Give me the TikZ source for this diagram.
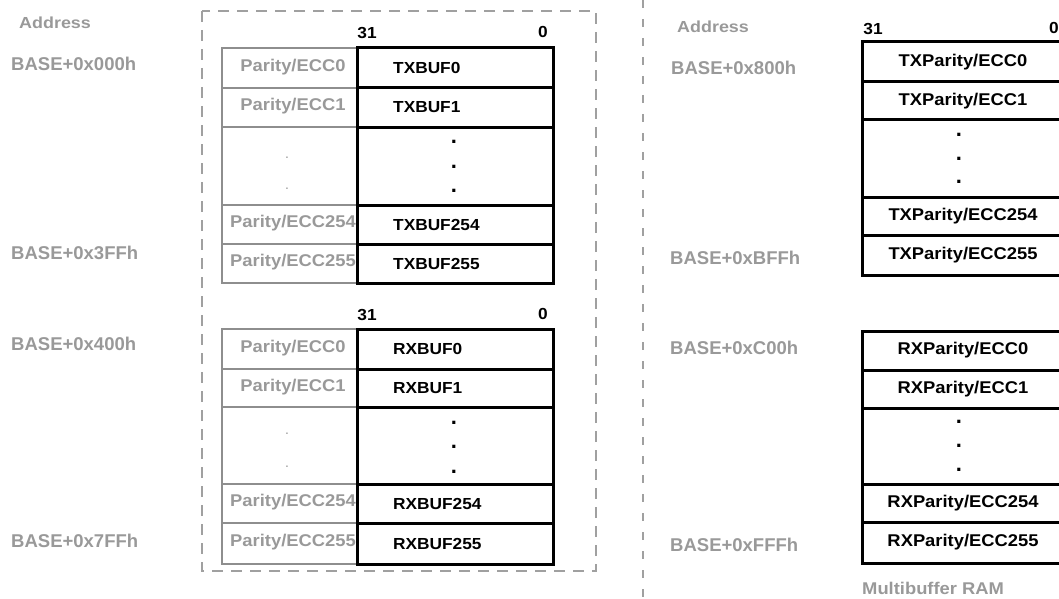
\documentclass[tikz,border=0pt]{standalone}
\usepackage{fontspec}
\setmainfont{Liberation Sans}
\newfontfamily\widefont{Liberation Sans}[FakeStretch=1.08]
\newfontfamily\hdrfont{Liberation Sans}[FakeStretch=1.12]
\definecolor{txtgray}{HTML}{999999}
\definecolor{cellgray}{HTML}{8E8E8E}
\definecolor{dashgray}{HTML}{A0A0A0}
\begin{document}
\begin{tikzpicture}[x=1pt,y=-1pt,
  gcell/.style={draw=cellgray, line width=2.6pt, inner sep=0pt, minimum width=135pt},
  bcell/.style={draw=black, line width=3pt, inner sep=0pt},
  addr/.style={text=txtgray, font=\bfseries\fontsize{18.5}{20}\selectfont, inner sep=0pt, anchor=west},
  hdr/.style={text=txtgray, font=\hdrfont\bfseries\fontsize{16}{18}\selectfont, inner sep=0pt, anchor=west},
  gtxt/.style={text=txtgray, font=\widefont\bfseries\fontsize{17}{19}\selectfont, inner sep=0pt},
  btxt/.style={text=black, font=\widefont\bfseries\fontsize{16}{19}\selectfont, inner sep=0pt},
  rtxt/.style={text=black, font=\widefont\bfseries\fontsize{17}{19}\selectfont, inner sep=0pt},
  bdot/.style={text=black, font=\bfseries\fontsize{22}{24}\selectfont, inner sep=0pt},
  gdot/.style={text=txtgray, font=\fontsize{14}{15}\selectfont, inner sep=0pt},
  dashbox/.style={draw=dashgray, line width=1.3pt, dash pattern=on 11pt off 8pt}]
\useasboundingbox (0,0) rectangle (1059,599);

% dashed separators
\draw[dashbox] (202,11) rectangle (596,571);
\coordinate (vtop) at (643,0);
\coordinate (vbot) at (643,599);
\draw[dashbox, dash pattern=on 8pt off 11pt] (vtop) -- (vbot);

% left address labels
\node[hdr] (aL) at (19,23) {Address};
\node[addr] (a000) at (11,64) {BASE+0x000h};
\node[addr] (a3ff) at (11,253) {BASE+0x3FFh};
\node[addr] (a400) at (11,344) {BASE+0x400h};
\node[addr] (a7ff) at (11,541) {BASE+0x7FFh};

% right address labels
\node[hdr] (aR) at (677,27) {Address};
\node[addr] (a800) at (671,68) {BASE+0x800h};
\node[addr] (abff) at (670,258) {BASE+0xBFFh};
\node[addr] (ac00) at (670,348) {BASE+0xC00h};
\node[addr] (afff) at (670,545) {BASE+0xFFFh};

% ---------- TX buffers (left) ----------
\node[btxt] (tx31) at (367,33) {31};
\node[btxt] (tx0b) at (543,32) {0};
\foreach \n/\a/\b/\lab/\glab in {0/48/88/TXBUF0/Parity\slash ECC0, 1/88/127/TXBUF1/Parity\slash ECC1, 254/205/244/TXBUF254/Parity\slash ECC254, 255/244/283/TXBUF255/Parity\slash ECC255}{
  \node[gcell, minimum height={\b-\a}] (txg\n) at (289.5,{(\a+\b)/2}) {};
  \node[bcell, minimum width=196pt, minimum height={\b-\a}] (txb\n) at (455,{(\a+\b)/2}) {};
  \node[gtxt] (txgt\n) at (293,{(\a+\b)/2-1}) {\glab};
  \node[btxt, anchor=west] (txbt\n) at (393,{(\a+\b)/2}) {\lab};
}
\node[gcell, minimum height=78pt] (txgd) at (289.5,166) {};
\node[bcell, minimum width=196pt, minimum height=78pt] (txbd) at (455,166) {};
\node[gdot] (txgd1) at (287,158) {.};
\node[gdot] (txgd2) at (287,189) {.};
\node[bdot] (txbd1) at (454,142) {.};
\node[bdot] (txbd2) at (454,167) {.};
\node[bdot] (txbd3) at (454,191) {.};

% ---------- RX buffers (left) ----------
\node[btxt] (rx31) at (367,315) {31};
\node[btxt] (rx0b) at (543,314) {0};
\foreach \n/\a/\b/\lab/\glab in {0/329/369/RXBUF0/Parity\slash ECC0, 1/369/407/RXBUF1/Parity\slash ECC1, 254/484/523/RXBUF254/Parity\slash ECC254, 255/523/564/RXBUF255/Parity\slash ECC255}{
  \node[gcell, minimum height={\b-\a}] (rxg\n) at (289.5,{(\a+\b)/2}) {};
  \node[bcell, minimum width=196pt, minimum height={\b-\a}] (rxb\n) at (455,{(\a+\b)/2}) {};
  \node[gtxt] (rxgt\n) at (293,{(\a+\b)/2-1}) {\glab};
  \node[btxt, anchor=west] (rxbt\n) at (393,{(\a+\b)/2}) {\lab};
}
\node[gcell, minimum height=77pt] (rxgd) at (289.5,445.5) {};
\node[bcell, minimum width=196pt, minimum height=77pt] (rxbd) at (455,445.5) {};
\node[gdot] (rxgd1) at (287,434) {.};
\node[gdot] (rxgd2) at (287,467) {.};
\node[bdot] (rxbd1) at (454,423) {.};
\node[bdot] (rxbd2) at (454,447) {.};
\node[bdot] (rxbd3) at (454,472) {.};

% ---------- TX parity (right) ----------
\node[btxt] (rt31) at (873,29) {31};
\node[btxt] (rt0b) at (1054,28) {0};
\foreach \n/\a/\b in {0/42/82, 1/82/120, 254/197/235, 255/235/275}{
  \node[bcell, minimum width=210pt, minimum height={\b-\a}] (rtb\n) at (967,{(\a+\b)/2}) {};
  \node[rtxt] (rtbt\n) at (963,{(\a+\b)/2}) {TXParity/ECC\n};
}
\node[bcell, minimum width=210pt, minimum height=77pt] (rtbd) at (967,158.5) {};
\node[bdot] (rtbd1) at (959,135) {.};
\node[bdot] (rtbd2) at (959,159) {.};
\node[bdot] (rtbd3) at (959,182) {.};

% ---------- RX parity (right) ----------
\foreach \n/\a/\b in {0/331/370, 1/370/408, 254/484/522, 255/522/563}{
  \node[bcell, minimum width=210pt, minimum height={\b-\a}] (rrb\n) at (967,{(\a+\b)/2}) {};
  \node[rtxt] (rrbt\n) at (963,{(\a+\b)/2}) {RXParity/ECC\n};
}
\node[bcell, minimum width=210pt, minimum height=76pt] (rrbd) at (967,446) {};
\node[bdot] (rrbd1) at (959,422) {.};
\node[bdot] (rrbd2) at (959,446) {.};
\node[bdot] (rrbd3) at (959,470) {.};

\node[gtxt, anchor=west] (mram) at (862,588) {Multibuffer RAM};
\end{tikzpicture}
\end{document}
